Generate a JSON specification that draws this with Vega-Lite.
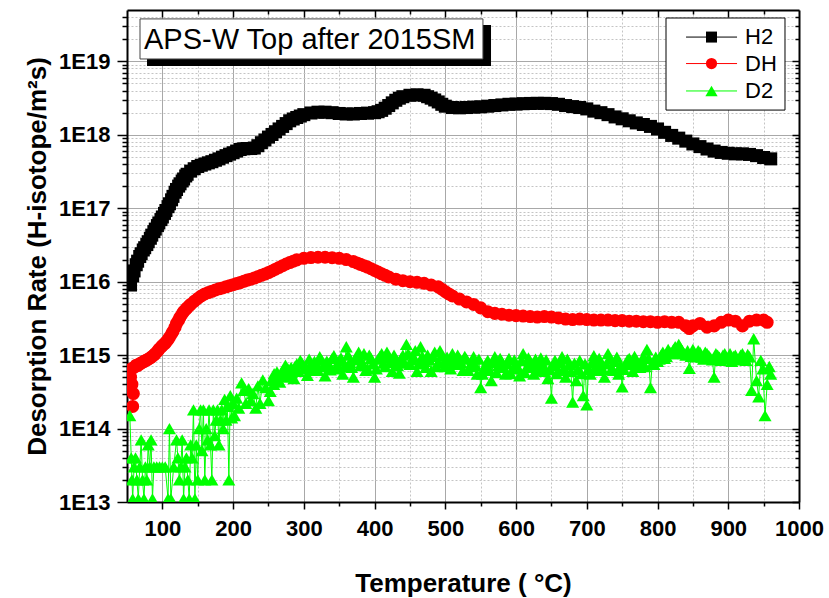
{
  "$schema": "https://vega.github.io/schema/vega-lite/v6.json",
  "width": 672,
  "height": 492,
  "autosize": "none",
  "padding": {"left": 127, "top": 10, "right": 30, "bottom": 96},
  "background": "#ffffff",
  "config": {"view": {"stroke": null}, "font": "Liberation Sans", "axis": {"labelColor": "#000000", "titleColor": "#000000", "labelFont": "Liberation Sans", "titleFont": "Liberation Sans"}},
  "datasets": {
    "tds": [
      {"s":"H2","T":55,"v":9e15},{"s":"H2","T":58,"v":1.2e16},{"s":"H2","T":60,"v":1.4e16},{"s":"H2","T":63,"v":1.7e16},{"s":"H2","T":65,"v":1.9e16},{"s":"H2","T":68,"v":2.2e16},{"s":"H2","T":70,"v":2.4e16},{"s":"H2","T":73,"v":2.7e16},{"s":"H2","T":75,"v":2.9e16},{"s":"H2","T":78,"v":3.2e16},{"s":"H2","T":80,"v":3.5e16},{"s":"H2","T":83,"v":3.9e16},{"s":"H2","T":85,"v":4.3e16},{"s":"H2","T":88,"v":4.8e16},{"s":"H2","T":90,"v":5.2e16},{"s":"H2","T":93,"v":5.8e16},{"s":"H2","T":95,"v":6.3e16},{"s":"H2","T":98,"v":7e16},{"s":"H2","T":100,"v":7.6e16},{"s":"H2","T":103,"v":8.5e16},{"s":"H2","T":105,"v":9.3e16},{"s":"H2","T":108,"v":1.05e17},{"s":"H2","T":110,"v":1.15e17},{"s":"H2","T":113,"v":1.3e17},{"s":"H2","T":115,"v":1.45e17},{"s":"H2","T":118,"v":1.65e17},{"s":"H2","T":120,"v":1.8e17},{"s":"H2","T":123,"v":2e17},{"s":"H2","T":125,"v":2.15e17},{"s":"H2","T":128,"v":2.35e17},{"s":"H2","T":130,"v":2.5e17},{"s":"H2","T":133,"v":2.75e17},{"s":"H2","T":135,"v":2.9e17},{"s":"H2","T":140,"v":3.2e17},{"s":"H2","T":145,"v":3.45e17},{"s":"H2","T":150,"v":3.7e17},{"s":"H2","T":155,"v":3.85e17},{"s":"H2","T":160,"v":4e17},{"s":"H2","T":165,"v":4.15e17},{"s":"H2","T":170,"v":4.3e17},{"s":"H2","T":175,"v":4.5e17},{"s":"H2","T":180,"v":4.7e17},{"s":"H2","T":185,"v":4.95e17},{"s":"H2","T":190,"v":5.2e17},{"s":"H2","T":195,"v":5.45e17},{"s":"H2","T":200,"v":5.7e17},{"s":"H2","T":205,"v":6e17},{"s":"H2","T":210,"v":6.3e17},{"s":"H2","T":215,"v":6.45e17},{"s":"H2","T":220,"v":6.5e17},{"s":"H2","T":225,"v":6.5e17},{"s":"H2","T":230,"v":6.6e17},{"s":"H2","T":235,"v":7.1e17},{"s":"H2","T":240,"v":7.8e17},{"s":"H2","T":245,"v":8.5e17},{"s":"H2","T":250,"v":9.3e17},{"s":"H2","T":255,"v":1.01e18},{"s":"H2","T":260,"v":1.1e18},{"s":"H2","T":265,"v":1.2e18},{"s":"H2","T":270,"v":1.3e18},{"s":"H2","T":275,"v":1.42e18},{"s":"H2","T":280,"v":1.55e18},{"s":"H2","T":285,"v":1.64e18},{"s":"H2","T":290,"v":1.72e18},{"s":"H2","T":295,"v":1.8e18},{"s":"H2","T":300,"v":1.88e18},{"s":"H2","T":310,"v":1.98e18},{"s":"H2","T":320,"v":2.03e18},{"s":"H2","T":330,"v":2.03e18},{"s":"H2","T":340,"v":2e18},{"s":"H2","T":350,"v":1.95e18},{"s":"H2","T":360,"v":1.92e18},{"s":"H2","T":370,"v":1.92e18},{"s":"H2","T":380,"v":1.95e18},{"s":"H2","T":390,"v":1.97e18},{"s":"H2","T":400,"v":2e18},{"s":"H2","T":405,"v":2.06e18},{"s":"H2","T":410,"v":2.15e18},{"s":"H2","T":415,"v":2.3e18},{"s":"H2","T":420,"v":2.5e18},{"s":"H2","T":425,"v":2.72e18},{"s":"H2","T":430,"v":2.95e18},{"s":"H2","T":435,"v":3.15e18},{"s":"H2","T":440,"v":3.3e18},{"s":"H2","T":450,"v":3.45e18},{"s":"H2","T":460,"v":3.5e18},{"s":"H2","T":470,"v":3.45e18},{"s":"H2","T":475,"v":3.3e18},{"s":"H2","T":480,"v":3.15e18},{"s":"H2","T":485,"v":2.98e18},{"s":"H2","T":490,"v":2.8e18},{"s":"H2","T":495,"v":2.6e18},{"s":"H2","T":500,"v":2.45e18},{"s":"H2","T":510,"v":2.35e18},{"s":"H2","T":520,"v":2.33e18},{"s":"H2","T":530,"v":2.35e18},{"s":"H2","T":540,"v":2.38e18},{"s":"H2","T":550,"v":2.4e18},{"s":"H2","T":560,"v":2.45e18},{"s":"H2","T":570,"v":2.5e18},{"s":"H2","T":580,"v":2.55e18},{"s":"H2","T":590,"v":2.6e18},{"s":"H2","T":600,"v":2.62e18},{"s":"H2","T":610,"v":2.65e18},{"s":"H2","T":620,"v":2.67e18},{"s":"H2","T":630,"v":2.68e18},{"s":"H2","T":640,"v":2.68e18},{"s":"H2","T":650,"v":2.66e18},{"s":"H2","T":660,"v":2.6e18},{"s":"H2","T":670,"v":2.5e18},{"s":"H2","T":680,"v":2.42e18},{"s":"H2","T":690,"v":2.35e18},{"s":"H2","T":700,"v":2.25e18},{"s":"H2","T":710,"v":2.1e18},{"s":"H2","T":720,"v":2e18},{"s":"H2","T":730,"v":1.88e18},{"s":"H2","T":740,"v":1.75e18},{"s":"H2","T":750,"v":1.65e18},{"s":"H2","T":760,"v":1.55e18},{"s":"H2","T":770,"v":1.45e18},{"s":"H2","T":780,"v":1.38e18},{"s":"H2","T":790,"v":1.3e18},{"s":"H2","T":800,"v":1.2e18},{"s":"H2","T":810,"v":1.08e18},{"s":"H2","T":820,"v":9.8e17},{"s":"H2","T":830,"v":9e17},{"s":"H2","T":840,"v":8.2e17},{"s":"H2","T":850,"v":7.5e17},{"s":"H2","T":860,"v":6.9e17},{"s":"H2","T":870,"v":6.4e17},{"s":"H2","T":880,"v":6e17},{"s":"H2","T":890,"v":5.75e17},{"s":"H2","T":900,"v":5.6e17},{"s":"H2","T":910,"v":5.5e17},{"s":"H2","T":920,"v":5.5e17},{"s":"H2","T":930,"v":5.4e17},{"s":"H2","T":940,"v":5.2e17},{"s":"H2","T":950,"v":4.9e17},{"s":"H2","T":960,"v":4.7e17},
      {"s":"DH","T":54,"v":3.5e14},{"s":"DH","T":55,"v":5e14},{"s":"DH","T":56,"v":6.5e14},{"s":"DH","T":57,"v":4e14},{"s":"DH","T":58,"v":2e14},{"s":"DH","T":59,"v":3e14},{"s":"DH","T":60,"v":6.8e14},{"s":"DH","T":63,"v":7.3e14},{"s":"DH","T":65,"v":7.2e14},{"s":"DH","T":68,"v":7.6e14},{"s":"DH","T":70,"v":7.8e14},{"s":"DH","T":73,"v":8.1e14},{"s":"DH","T":75,"v":8.3e14},{"s":"DH","T":78,"v":8.6e14},{"s":"DH","T":80,"v":8.8e14},{"s":"DH","T":83,"v":9.2e14},{"s":"DH","T":85,"v":9.5e14},{"s":"DH","T":88,"v":1e15},{"s":"DH","T":90,"v":1.05e15},{"s":"DH","T":93,"v":1.12e15},{"s":"DH","T":95,"v":1.2e15},{"s":"DH","T":98,"v":1.28e15},{"s":"DH","T":100,"v":1.35e15},{"s":"DH","T":103,"v":1.42e15},{"s":"DH","T":105,"v":1.5e15},{"s":"DH","T":108,"v":1.62e15},{"s":"DH","T":110,"v":1.75e15},{"s":"DH","T":113,"v":1.95e15},{"s":"DH","T":115,"v":2.1e15},{"s":"DH","T":118,"v":2.4e15},{"s":"DH","T":120,"v":2.7e15},{"s":"DH","T":123,"v":3e15},{"s":"DH","T":125,"v":3.3e15},{"s":"DH","T":128,"v":3.65e15},{"s":"DH","T":130,"v":3.9e15},{"s":"DH","T":133,"v":4.2e15},{"s":"DH","T":135,"v":4.4e15},{"s":"DH","T":138,"v":4.7e15},{"s":"DH","T":140,"v":4.9e15},{"s":"DH","T":145,"v":5.4e15},{"s":"DH","T":150,"v":5.9e15},{"s":"DH","T":155,"v":6.4e15},{"s":"DH","T":160,"v":6.8e15},{"s":"DH","T":165,"v":7.1e15},{"s":"DH","T":170,"v":7.4e15},{"s":"DH","T":175,"v":7.7e15},{"s":"DH","T":180,"v":8e15},{"s":"DH","T":185,"v":8.2e15},{"s":"DH","T":190,"v":8.5e15},{"s":"DH","T":195,"v":8.8e15},{"s":"DH","T":200,"v":9.1e15},{"s":"DH","T":205,"v":9.4e15},{"s":"DH","T":210,"v":9.7e15},{"s":"DH","T":215,"v":1.01e16},{"s":"DH","T":220,"v":1.05e16},{"s":"DH","T":225,"v":1.08e16},{"s":"DH","T":230,"v":1.12e16},{"s":"DH","T":235,"v":1.17e16},{"s":"DH","T":240,"v":1.22e16},{"s":"DH","T":245,"v":1.27e16},{"s":"DH","T":250,"v":1.33e16},{"s":"DH","T":255,"v":1.4e16},{"s":"DH","T":260,"v":1.48e16},{"s":"DH","T":265,"v":1.56e16},{"s":"DH","T":270,"v":1.65e16},{"s":"DH","T":275,"v":1.74e16},{"s":"DH","T":280,"v":1.82e16},{"s":"DH","T":285,"v":1.9e16},{"s":"DH","T":290,"v":1.98e16},{"s":"DH","T":300,"v":2.08e16},{"s":"DH","T":310,"v":2.13e16},{"s":"DH","T":320,"v":2.15e16},{"s":"DH","T":330,"v":2.15e16},{"s":"DH","T":340,"v":2.12e16},{"s":"DH","T":350,"v":2.08e16},{"s":"DH","T":360,"v":2e16},{"s":"DH","T":370,"v":1.88e16},{"s":"DH","T":375,"v":1.8e16},{"s":"DH","T":380,"v":1.72e16},{"s":"DH","T":385,"v":1.65e16},{"s":"DH","T":390,"v":1.58e16},{"s":"DH","T":395,"v":1.5e16},{"s":"DH","T":400,"v":1.42e16},{"s":"DH","T":405,"v":1.35e16},{"s":"DH","T":410,"v":1.28e16},{"s":"DH","T":415,"v":1.22e16},{"s":"DH","T":420,"v":1.16e16},{"s":"DH","T":430,"v":1.08e16},{"s":"DH","T":440,"v":1.03e16},{"s":"DH","T":450,"v":1e16},{"s":"DH","T":460,"v":9.8e15},{"s":"DH","T":470,"v":9.5e15},{"s":"DH","T":480,"v":9e15},{"s":"DH","T":490,"v":8.5e15},{"s":"DH","T":495,"v":7.9e15},{"s":"DH","T":500,"v":7.3e15},{"s":"DH","T":505,"v":6.8e15},{"s":"DH","T":510,"v":6.4e15},{"s":"DH","T":520,"v":5.8e15},{"s":"DH","T":530,"v":5.3e15},{"s":"DH","T":540,"v":4.9e15},{"s":"DH","T":550,"v":4.4e15},{"s":"DH","T":560,"v":3.9e15},{"s":"DH","T":570,"v":3.7e15},{"s":"DH","T":580,"v":3.6e15},{"s":"DH","T":590,"v":3.5e15},{"s":"DH","T":600,"v":3.45e15},{"s":"DH","T":610,"v":3.4e15},{"s":"DH","T":620,"v":3.35e15},{"s":"DH","T":630,"v":3.3e15},{"s":"DH","T":640,"v":3.35e15},{"s":"DH","T":650,"v":3.3e15},{"s":"DH","T":660,"v":3.2e15},{"s":"DH","T":670,"v":3.1e15},{"s":"DH","T":680,"v":3.05e15},{"s":"DH","T":690,"v":3.1e15},{"s":"DH","T":700,"v":3.05e15},{"s":"DH","T":710,"v":3e15},{"s":"DH","T":720,"v":3e15},{"s":"DH","T":730,"v":3e15},{"s":"DH","T":740,"v":2.95e15},{"s":"DH","T":750,"v":2.95e15},{"s":"DH","T":760,"v":2.9e15},{"s":"DH","T":770,"v":2.9e15},{"s":"DH","T":780,"v":2.85e15},{"s":"DH","T":790,"v":2.85e15},{"s":"DH","T":800,"v":2.8e15},{"s":"DH","T":810,"v":2.85e15},{"s":"DH","T":820,"v":2.8e15},{"s":"DH","T":830,"v":2.8e15},{"s":"DH","T":840,"v":2.5e15},{"s":"DH","T":845,"v":2.3e15},{"s":"DH","T":850,"v":2.5e15},{"s":"DH","T":860,"v":2.7e15},{"s":"DH","T":870,"v":2.4e15},{"s":"DH","T":880,"v":2.5e15},{"s":"DH","T":890,"v":2.8e15},{"s":"DH","T":900,"v":3e15},{"s":"DH","T":910,"v":2.9e15},{"s":"DH","T":920,"v":2.5e15},{"s":"DH","T":930,"v":2.9e15},{"s":"DH","T":940,"v":3e15},{"s":"DH","T":950,"v":3e15},{"s":"DH","T":955,"v":2.8e15},
      {"s":"D2","T":54,"v":1.5e14},{"s":"D2","T":56,"v":4e13},{"s":"D2","T":57,"v":2e13},{"s":"D2","T":58,"v":1.1e13},{"s":"D2","T":60,"v":3e13},{"s":"D2","T":62,"v":4e13},{"s":"D2","T":64,"v":2e13},{"s":"D2","T":66,"v":1.1e13},{"s":"D2","T":68,"v":3e13},{"s":"D2","T":70,"v":7e13},{"s":"D2","T":72,"v":2e13},{"s":"D2","T":74,"v":1.1e13},{"s":"D2","T":76,"v":3e13},{"s":"D2","T":78,"v":2e13},{"s":"D2","T":80,"v":6e13},{"s":"D2","T":82,"v":3e13},{"s":"D2","T":84,"v":7e13},{"s":"D2","T":86,"v":1.1e13},{"s":"D2","T":88,"v":3e13},{"s":"D2","T":92,"v":3e13},{"s":"D2","T":96,"v":3e13},{"s":"D2","T":100,"v":3e13},{"s":"D2","T":104,"v":3e13},{"s":"D2","T":108,"v":1.1e13},{"s":"D2","T":110,"v":1e14},{"s":"D2","T":112,"v":1.1e13},{"s":"D2","T":116,"v":3e13},{"s":"D2","T":120,"v":7e13},{"s":"D2","T":122,"v":4e13},{"s":"D2","T":124,"v":2e13},{"s":"D2","T":126,"v":3e13},{"s":"D2","T":128,"v":7e13},{"s":"D2","T":130,"v":1.1e13},{"s":"D2","T":132,"v":3e13},{"s":"D2","T":134,"v":4e13},{"s":"D2","T":136,"v":2e13},{"s":"D2","T":138,"v":1.1e13},{"s":"D2","T":140,"v":6e13},{"s":"D2","T":142,"v":4e13},{"s":"D2","T":144,"v":1.8e14},{"s":"D2","T":146,"v":1.1e13},{"s":"D2","T":148,"v":6e13},{"s":"D2","T":150,"v":2e13},{"s":"D2","T":152,"v":1e14},{"s":"D2","T":154,"v":1.8e14},{"s":"D2","T":156,"v":5e13},{"s":"D2","T":158,"v":1.8e14},{"s":"D2","T":160,"v":2e13},{"s":"D2","T":162,"v":1e14},{"s":"D2","T":164,"v":7e13},{"s":"D2","T":166,"v":1.8e14},{"s":"D2","T":168,"v":6e13},{"s":"D2","T":170,"v":2e13},{"s":"D2","T":172,"v":1.8e14},{"s":"D2","T":174,"v":8e13},{"s":"D2","T":176,"v":1.3e14},{"s":"D2","T":178,"v":1.8e14},{"s":"D2","T":180,"v":6e13},{"s":"D2","T":182,"v":1.3e14},{"s":"D2","T":184,"v":1.8e14},{"s":"D2","T":186,"v":1e14},{"s":"D2","T":188,"v":2.5e14},{"s":"D2","T":190,"v":1.3e14},{"s":"D2","T":192,"v":2e14},{"s":"D2","T":194,"v":2e13},{"s":"D2","T":196,"v":2.8e14},{"s":"D2","T":198,"v":1.4e14},{"s":"D2","T":200,"v":2.2e14},{"s":"D2","T":202,"v":1.5e14},{"s":"D2","T":205,"v":2.6e14},{"s":"D2","T":208,"v":1.9e14},{"s":"D2","T":212,"v":4.2e14},{"s":"D2","T":215,"v":3.3e14},{"s":"D2","T":218,"v":2.2e14},{"s":"D2","T":222,"v":3.5e14},{"s":"D2","T":225,"v":2.4e14},{"s":"D2","T":228,"v":3e14},{"s":"D2","T":232,"v":1.9e14},{"s":"D2","T":235,"v":3.8e14},{"s":"D2","T":238,"v":2.2e14},{"s":"D2","T":242,"v":4.6e14},{"s":"D2","T":246,"v":3.6e14},{"s":"D2","T":250,"v":2.4e14},{"s":"D2","T":254,"v":4.5e14},{"s":"D2","T":258,"v":5.6e14},{"s":"D2","T":262,"v":5.9e14},{"s":"D2","T":266,"v":4.3e14},{"s":"D2","T":270,"v":6.2e14},{"s":"D2","T":274,"v":7.3e14},{"s":"D2","T":278,"v":5.2e14},{"s":"D2","T":282,"v":6.8e14},{"s":"D2","T":286,"v":4.8e14},{"s":"D2","T":290,"v":7.6e14},{"s":"D2","T":295,"v":8.5e14},{"s":"D2","T":300,"v":6.5e14},{"s":"D2","T":305,"v":5.3e14},{"s":"D2","T":310,"v":7.5e14},{"s":"D2","T":315,"v":8.2e14},{"s":"D2","T":320,"v":6.2e14},{"s":"D2","T":325,"v":8.6e14},{"s":"D2","T":330,"v":5.2e14},{"s":"D2","T":335,"v":7.6e14},{"s":"D2","T":340,"v":9e14},{"s":"D2","T":345,"v":6.5e14},{"s":"D2","T":350,"v":8.5e14},{"s":"D2","T":355,"v":5.5e14},{"s":"D2","T":360,"v":1.3e15},{"s":"D2","T":365,"v":8e14},{"s":"D2","T":370,"v":5e14},{"s":"D2","T":375,"v":9.5e14},{"s":"D2","T":380,"v":7.2e14},{"s":"D2","T":385,"v":1.05e15},{"s":"D2","T":390,"v":6.5e14},{"s":"D2","T":395,"v":9e14},{"s":"D2","T":400,"v":5e14},{"s":"D2","T":405,"v":8.8e14},{"s":"D2","T":410,"v":1.05e15},{"s":"D2","T":415,"v":7e14},{"s":"D2","T":420,"v":9.3e14},{"s":"D2","T":425,"v":6e14},{"s":"D2","T":430,"v":8.5e14},{"s":"D2","T":435,"v":5.7e14},{"s":"D2","T":440,"v":1e15},{"s":"D2","T":445,"v":1.4e15},{"s":"D2","T":450,"v":7.5e14},{"s":"D2","T":455,"v":9.5e14},{"s":"D2","T":460,"v":6e14},{"s":"D2","T":465,"v":1.3e15},{"s":"D2","T":470,"v":8.2e14},{"s":"D2","T":475,"v":1e15},{"s":"D2","T":480,"v":6e14},{"s":"D2","T":485,"v":1.1e15},{"s":"D2","T":490,"v":8e14},{"s":"D2","T":495,"v":9.8e14},{"s":"D2","T":500,"v":7e14},{"s":"D2","T":505,"v":8.3e14},{"s":"D2","T":510,"v":1.05e15},{"s":"D2","T":515,"v":7.5e14},{"s":"D2","T":520,"v":9e14},{"s":"D2","T":525,"v":6.2e14},{"s":"D2","T":530,"v":8.8e14},{"s":"D2","T":535,"v":7e14},{"s":"D2","T":540,"v":9.5e14},{"s":"D2","T":545,"v":5.5e14},{"s":"D2","T":550,"v":3.6e14},{"s":"D2","T":555,"v":6.5e14},{"s":"D2","T":560,"v":8.5e14},{"s":"D2","T":565,"v":4.5e14},{"s":"D2","T":570,"v":9.5e14},{"s":"D2","T":575,"v":7.2e14},{"s":"D2","T":580,"v":8e14},{"s":"D2","T":585,"v":5.5e14},{"s":"D2","T":590,"v":9e14},{"s":"D2","T":595,"v":6.5e14},{"s":"D2","T":600,"v":7.5e14},{"s":"D2","T":605,"v":5.2e14},{"s":"D2","T":610,"v":1.05e15},{"s":"D2","T":615,"v":6.8e14},{"s":"D2","T":620,"v":8.2e14},{"s":"D2","T":625,"v":5.5e14},{"s":"D2","T":630,"v":7.6e14},{"s":"D2","T":635,"v":9.2e14},{"s":"D2","T":640,"v":6e14},{"s":"D2","T":645,"v":4.8e14},{"s":"D2","T":650,"v":2.6e14},{"s":"D2","T":655,"v":8.5e14},{"s":"D2","T":660,"v":6.2e14},{"s":"D2","T":665,"v":9.5e14},{"s":"D2","T":670,"v":5e14},{"s":"D2","T":675,"v":7.5e14},{"s":"D2","T":680,"v":2.3e14},{"s":"D2","T":685,"v":4.5e14},{"s":"D2","T":690,"v":8.5e14},{"s":"D2","T":695,"v":2.8e14},{"s":"D2","T":700,"v":2.1e14},{"s":"D2","T":705,"v":5.5e14},{"s":"D2","T":710,"v":9.8e14},{"s":"D2","T":715,"v":6.2e14},{"s":"D2","T":720,"v":7.8e14},{"s":"D2","T":725,"v":5e14},{"s":"D2","T":730,"v":1.05e15},{"s":"D2","T":735,"v":6.5e14},{"s":"D2","T":740,"v":8.2e14},{"s":"D2","T":745,"v":5.5e14},{"s":"D2","T":750,"v":3.7e14},{"s":"D2","T":755,"v":7.6e14},{"s":"D2","T":760,"v":9e14},{"s":"D2","T":765,"v":6e14},{"s":"D2","T":770,"v":8.5e14},{"s":"D2","T":775,"v":6.8e14},{"s":"D2","T":780,"v":9.5e14},{"s":"D2","T":785,"v":1.2e15},{"s":"D2","T":790,"v":3.6e14},{"s":"D2","T":795,"v":7.5e14},{"s":"D2","T":800,"v":8.2e14},{"s":"D2","T":805,"v":1e15},{"s":"D2","T":810,"v":9e14},{"s":"D2","T":815,"v":1.2e15},{"s":"D2","T":820,"v":1.05e15},{"s":"D2","T":825,"v":1.3e15},{"s":"D2","T":830,"v":1.4e15},{"s":"D2","T":835,"v":1.15e15},{"s":"D2","T":840,"v":1e15},{"s":"D2","T":845,"v":6.6e14},{"s":"D2","T":850,"v":1.2e15},{"s":"D2","T":855,"v":9.5e14},{"s":"D2","T":860,"v":1.1e15},{"s":"D2","T":865,"v":8.8e14},{"s":"D2","T":870,"v":1.05e15},{"s":"D2","T":875,"v":9.2e14},{"s":"D2","T":880,"v":5e14},{"s":"D2","T":885,"v":1e15},{"s":"D2","T":890,"v":8.5e14},{"s":"D2","T":895,"v":1.05e15},{"s":"D2","T":900,"v":9e14},{"s":"D2","T":905,"v":8.2e14},{"s":"D2","T":910,"v":1e15},{"s":"D2","T":915,"v":8.8e14},{"s":"D2","T":920,"v":1.05e15},{"s":"D2","T":925,"v":8.5e14},{"s":"D2","T":930,"v":9.5e14},{"s":"D2","T":933,"v":3.3e14},{"s":"D2","T":936,"v":1.67e15},{"s":"D2","T":940,"v":4.5e14},{"s":"D2","T":943,"v":2.7e14},{"s":"D2","T":946,"v":8.5e14},{"s":"D2","T":949,"v":6.5e14},{"s":"D2","T":952,"v":1.5e14},{"s":"D2","T":955,"v":4e14},{"s":"D2","T":958,"v":7e14},{"s":"D2","T":960,"v":5.5e14},
      {"s":"D2","T":252.5,"v":3.2e14},{"s":"D2","T":257.5,"v":4e14},{"s":"D2","T":262.5,"v":4.8e14},{"s":"D2","T":267.5,"v":5.5e14},{"s":"D2","T":272.5,"v":5e14},{"s":"D2","T":277.5,"v":6.5e14},{"s":"D2","T":282.5,"v":5.8e14},{"s":"D2","T":287.5,"v":7e14},{"s":"D2","T":292.5,"v":6e14},{"s":"D2","T":297.5,"v":7.8e14},
      {"s":"D2","T":302.5,"v":7e14},{"s":"D2","T":307.5,"v":8.8e14},{"s":"D2","T":312.5,"v":6.2e14},{"s":"D2","T":317.5,"v":7.8e14},{"s":"D2","T":322.5,"v":9.5e14},{"s":"D2","T":327.5,"v":7e14},{"s":"D2","T":332.5,"v":8.3e14},{"s":"D2","T":337.5,"v":6.3e14},{"s":"D2","T":342.5,"v":9.8e14},{"s":"D2","T":347.5,"v":7.4e14},
      {"s":"D2","T":352.5,"v":9.2e14},{"s":"D2","T":357.5,"v":7e14},{"s":"D2","T":362.5,"v":1e15},{"s":"D2","T":367.5,"v":6.8e14},{"s":"D2","T":372.5,"v":8.6e14},{"s":"D2","T":377.5,"v":1.1e15},{"s":"D2","T":382.5,"v":8e14},{"s":"D2","T":387.5,"v":6.2e14},{"s":"D2","T":392.5,"v":1e15},{"s":"D2","T":397.5,"v":7.6e14},
      {"s":"D2","T":402.5,"v":6.5e14},{"s":"D2","T":407.5,"v":9.6e14},{"s":"D2","T":412.5,"v":7.8e14},{"s":"D2","T":417.5,"v":1.1e15},{"s":"D2","T":422.5,"v":8e14},{"s":"D2","T":427.5,"v":1e15},{"s":"D2","T":432.5,"v":7.2e14},{"s":"D2","T":437.5,"v":9e14},{"s":"D2","T":442.5,"v":7.8e14},{"s":"D2","T":447.5,"v":1.05e15},
      {"s":"D2","T":452.5,"v":8.6e14},{"s":"D2","T":457.5,"v":1.15e15},{"s":"D2","T":462.5,"v":7.6e14},{"s":"D2","T":467.5,"v":9.6e14},{"s":"D2","T":472.5,"v":6.8e14},{"s":"D2","T":477.5,"v":8.6e14},{"s":"D2","T":482.5,"v":9.6e14},{"s":"D2","T":487.5,"v":7e14},{"s":"D2","T":492.5,"v":1.15e15},{"s":"D2","T":497.5,"v":7.8e14},
      {"s":"D2","T":502.5,"v":9.4e14},{"s":"D2","T":507.5,"v":6.5e14},{"s":"D2","T":512.5,"v":8.6e14},{"s":"D2","T":517.5,"v":1e15},{"s":"D2","T":522.5,"v":7.8e14},{"s":"D2","T":527.5,"v":9.6e14},{"s":"D2","T":532.5,"v":6.2e14},{"s":"D2","T":537.5,"v":8e14},{"s":"D2","T":542.5,"v":7.2e14},{"s":"D2","T":547.5,"v":8.8e14},
      {"s":"D2","T":552.5,"v":5.5e14},{"s":"D2","T":557.5,"v":7.6e14},{"s":"D2","T":562.5,"v":6.2e14},{"s":"D2","T":567.5,"v":8e14},{"s":"D2","T":572.5,"v":5.8e14},{"s":"D2","T":577.5,"v":9e14},{"s":"D2","T":582.5,"v":6.8e14},{"s":"D2","T":587.5,"v":7.6e14},{"s":"D2","T":592.5,"v":5.6e14},{"s":"D2","T":597.5,"v":8.6e14},
      {"s":"D2","T":602.5,"v":6.6e14},{"s":"D2","T":607.5,"v":8.4e14},{"s":"D2","T":612.5,"v":5.8e14},{"s":"D2","T":617.5,"v":9.2e14},{"s":"D2","T":622.5,"v":7e14},{"s":"D2","T":627.5,"v":8.8e14},{"s":"D2","T":632.5,"v":6.2e14},{"s":"D2","T":637.5,"v":7.4e14},{"s":"D2","T":642.5,"v":8.6e14},{"s":"D2","T":647.5,"v":6.4e14},
      {"s":"D2","T":652.5,"v":7.2e14},{"s":"D2","T":657.5,"v":5.6e14},{"s":"D2","T":662.5,"v":8e14},{"s":"D2","T":667.5,"v":6.6e14},{"s":"D2","T":672.5,"v":8.8e14},{"s":"D2","T":677.5,"v":6e14},{"s":"D2","T":682.5,"v":7.8e14},{"s":"D2","T":687.5,"v":6.4e14},{"s":"D2","T":692.5,"v":5.6e14},{"s":"D2","T":697.5,"v":7.6e14},
      {"s":"D2","T":702.5,"v":6.4e14},{"s":"D2","T":707.5,"v":8e14},{"s":"D2","T":712.5,"v":7e14},{"s":"D2","T":717.5,"v":9e14},{"s":"D2","T":722.5,"v":6.4e14},{"s":"D2","T":727.5,"v":7.6e14},{"s":"D2","T":732.5,"v":8.8e14},{"s":"D2","T":737.5,"v":6.2e14},{"s":"D2","T":742.5,"v":9.4e14},{"s":"D2","T":747.5,"v":7.2e14},
      {"s":"D2","T":752.5,"v":6.4e14},{"s":"D2","T":757.5,"v":8.6e14},{"s":"D2","T":762.5,"v":7.4e14},{"s":"D2","T":767.5,"v":9.6e14},{"s":"D2","T":772.5,"v":7.2e14},{"s":"D2","T":777.5,"v":8.2e14},{"s":"D2","T":782.5,"v":7e14},{"s":"D2","T":787.5,"v":9e14},{"s":"D2","T":792.5,"v":7.6e14},{"s":"D2","T":797.5,"v":9.4e14},
      {"s":"D2","T":802.5,"v":8.8e14},{"s":"D2","T":807.5,"v":1.1e15},{"s":"D2","T":812.5,"v":9.6e14},{"s":"D2","T":817.5,"v":1.1e15},{"s":"D2","T":822.5,"v":1.2e15},{"s":"D2","T":827.5,"v":1.05e15},{"s":"D2","T":832.5,"v":1.25e15},{"s":"D2","T":837.5,"v":1.05e15},{"s":"D2","T":842.5,"v":1.15e15},{"s":"D2","T":847.5,"v":9.6e14},
      {"s":"D2","T":852.5,"v":1.05e15},{"s":"D2","T":857.5,"v":1.15e15},{"s":"D2","T":862.5,"v":9.4e14},{"s":"D2","T":867.5,"v":1.1e15},{"s":"D2","T":872.5,"v":9.8e14},{"s":"D2","T":877.5,"v":8.6e14},{"s":"D2","T":882.5,"v":1.05e15},{"s":"D2","T":887.5,"v":9.4e14},{"s":"D2","T":892.5,"v":1e15},{"s":"D2","T":897.5,"v":9.2e14},
      {"s":"D2","T":902.5,"v":1.05e15},{"s":"D2","T":907.5,"v":9.6e14},{"s":"D2","T":912.5,"v":8.6e14},{"s":"D2","T":917.5,"v":1e15},{"s":"D2","T":922.5,"v":9.2e14},{"s":"D2","T":927.5,"v":1.02e15}
    ]
  },
  "resolve": {"axis": {"x": "independent", "y": "independent"}},
  "layer": [
    {
      "data": {"name": "tds"},
      "mark": {"type": "line", "strokeWidth": 1, "clip": true},
      "encoding": {
        "x": {"field": "T", "type": "quantitative", "scale": {"domain": [50, 1000], "nice": false, "zero": false},
          "axis": {"orient": "bottom", "values": [150,250,350,450,550,650,750,850,950], "labels": false, "title": null, "tickSize": 4, "tickColor": "#000000", "tickWidth": 1.5, "domain": false, "grid": true, "gridColor": "#c4c4c4", "gridDash": [2, 2], "gridWidth": 1}},
        "y": {"field": "v", "type": "quantitative", "scale": {"type": "log", "domain": [1e13, 5e19], "nice": false},
          "axis": {"orient": "left", "values": [2e13,3e13,4e13,5e13,6e13,7e13,8e13,9e13,2e14,3e14,4e14,5e14,6e14,7e14,8e14,9e14,2e15,3e15,4e15,5e15,6e15,7e15,8e15,9e15,2e16,3e16,4e16,5e16,6e16,7e16,8e16,9e16,2e17,3e17,4e17,5e17,6e17,7e17,8e17,9e17,2e18,3e18,4e18,5e18,6e18,7e18,8e18,9e18,2e19,3e19,4e19], "labels": false, "title": null, "tickSize": 5, "tickColor": "#000000", "tickWidth": 1.5, "domain": false, "grid": true, "gridColor": "#c4c4c4", "gridDash": [2, 2], "gridWidth": 1}},
        "stroke": {"field": "s", "type": "nominal", "scale": {"domain": ["H2", "DH", "D2"], "range": ["#000000", "#ff0000", "#00ff00"]}, "legend": null},
        "detail": {"field": "s"}
      }
    },
    {
      "data": {"name": "tds"},
      "mark": {"type": "point", "filled": true, "opacity": 1, "size": 170, "clip": true},
      "encoding": {
        "x": {"field": "T", "type": "quantitative", "scale": {"domain": [50, 1000], "nice": false, "zero": false},
          "axis": {"orient": "bottom", "values": [100,200,300,400,500,600,700,800,900,1000], "format": "d", "title": "Temperature ( °C)", "titleFontSize": 26, "titleFontWeight": "bold", "titlePadding": 31, "labelFontSize": 22, "labelFontWeight": "bold", "labelPadding": 9, "labelFlush": false, "labelOverlap": false, "tickSize": 7, "tickColor": "#000000", "tickWidth": 1.5, "domain": true, "domainColor": "#000000", "domainWidth": 2, "grid": true, "gridColor": "#a8a8a8", "gridWidth": 1}},
        "y": {"field": "v", "type": "quantitative", "scale": {"type": "log", "domain": [1e13, 5e19], "nice": false},
          "axis": {"orient": "left", "values": [1e13,1e14,1e15,1e16,1e17,1e18,1e19], "labelExpr": "'1E' + round(log(datum.value)/LN10)", "title": "Desorption Rate (H-isotope/m²s)", "titleFontSize": 26, "titleFontWeight": "bold", "titlePadding": 8, "labelFontSize": 22, "labelFontWeight": "bold", "labelPadding": 7, "labelFlush": false, "labelOverlap": false, "tickSize": 10, "tickColor": "#000000", "tickWidth": 1.5, "domain": true, "domainColor": "#000000", "domainWidth": 2, "grid": true, "gridColor": "#a8a8a8", "gridWidth": 1}},
        "color": {"field": "s", "type": "nominal", "scale": {"domain": ["H2", "DH", "D2"], "range": ["#000000", "#ff0000", "#00ff00"]}, "legend": null},
        "shape": {"field": "s", "type": "nominal", "scale": {"domain": ["H2", "DH", "D2"], "range": ["square", "circle", "triangle-up"]}, "legend": null}
      }
    },
    {
      "data": {"values": [{}]},
      "mark": {"type": "rect", "color": "#000000"},
      "encoding": {
        "x": {"datum": 78.3, "type": "quantitative", "scale": {"domain": [50, 1000], "nice": false, "zero": false},
          "axis": {"orient": "top", "values": [150,250,350,450,550,650,750,850,950], "labels": false, "title": null, "tickSize": -4, "tickColor": "#000000", "tickWidth": 1.5, "domain": true, "domainColor": "#000000", "domainWidth": 2, "grid": false}},
        "x2": {"datum": 564.6},
        "y": {"datum": 3.13e19, "type": "quantitative", "scale": {"type": "log", "domain": [1e13, 5e19], "nice": false},
          "axis": {"orient": "right", "values": [2e13,3e13,4e13,5e13,6e13,7e13,8e13,9e13,2e14,3e14,4e14,5e14,6e14,7e14,8e14,9e14,2e15,3e15,4e15,5e15,6e15,7e15,8e15,9e15,2e16,3e16,4e16,5e16,6e16,7e16,8e16,9e16,2e17,3e17,4e17,5e17,6e17,7e17,8e17,9e17,2e18,3e18,4e18,5e18,6e18,7e18,8e18,9e18,2e19,3e19,4e19], "labels": false, "title": null, "tickSize": -4, "tickColor": "#000000", "tickWidth": 1.5, "domain": true, "domainColor": "#000000", "domainWidth": 2, "grid": false}},
        "y2": {"datum": 8.65e18}
      }
    },
    {
      "data": {"values": [{}]},
      "mark": {"type": "rect", "fill": "#ffffff", "stroke": "#444444", "strokeWidth": 1},
      "encoding": {
        "x": {"datum": 68.4, "type": "quantitative", "scale": {"domain": [50, 1000], "nice": false, "zero": false},
          "axis": {"orient": "top", "values": [100,200,300,400,500,600,700,800,900], "labels": false, "title": null, "tickSize": -7, "tickColor": "#000000", "tickWidth": 1.5, "domain": false, "grid": false}},
        "x2": {"datum": 553.2},
        "y": {"datum": 3.78e19, "type": "quantitative", "scale": {"type": "log", "domain": [1e13, 5e19], "nice": false},
          "axis": {"orient": "right", "values": [1e13,1e14,1e15,1e16,1e17,1e18,1e19], "labels": false, "title": null, "tickSize": -7, "tickColor": "#000000", "tickWidth": 1.5, "domain": false, "grid": false}},
        "y2": {"datum": 1.077e19}
      }
    },
    {
      "data": {"values": [{"label": "APS-W Top after 2015SM"}]},
      "mark": {"type": "text", "align": "left", "baseline": "alphabetic", "font": "Liberation Sans", "fontSize": 29, "color": "#000000"},
      "encoding": {
        "x": {"datum": 74.0, "type": "quantitative", "scale": {"domain": [50, 1000], "nice": false, "zero": false}, "axis": null},
        "y": {"datum": 1.46e19, "type": "quantitative", "scale": {"type": "log", "domain": [1e13, 5e19], "nice": false}, "axis": null},
        "text": {"field": "label"}
      }
    },
    {
      "data": {"values": [{}]},
      "mark": {"type": "rect", "fill": "#ffffff", "stroke": "#000000", "strokeWidth": 1},
      "encoding": {
        "x": {"datum": 812.0, "type": "quantitative", "scale": {"domain": [50, 1000], "nice": false, "zero": false}, "axis": null},
        "x2": {"datum": 980.2},
        "y": {"datum": 3.89e19, "type": "quantitative", "scale": {"type": "log", "domain": [1e13, 5e19], "nice": false}, "axis": null},
        "y2": {"datum": 2.17e18}
      }
    },
    {
      "data": {"values": [{"s": "H2"}]},
      "layer": [
        {"mark": {"type": "rule", "color": "#000000", "strokeWidth": 1},
         "encoding": {"x": {"datum": 840.3, "type": "quantitative", "scale": {"domain": [50, 1000], "nice": false, "zero": false}, "axis": null}, "x2": {"datum": 912.4}, "y": {"datum": 2.14e19, "type": "quantitative", "scale": {"type": "log", "domain": [1e13, 5e19], "nice": false}, "axis": null}}},
        {"mark": {"type": "point", "shape": "square", "filled": true, "opacity": 1, "size": 121, "color": "#000000"},
         "encoding": {"x": {"datum": 876.3, "type": "quantitative", "scale": {"domain": [50, 1000], "nice": false, "zero": false}, "axis": null}, "y": {"datum": 2.14e19, "type": "quantitative", "scale": {"type": "log", "domain": [1e13, 5e19], "nice": false}, "axis": null}}},
        {"mark": {"type": "text", "align": "left", "baseline": "middle", "font": "Liberation Sans", "fontSize": 22, "color": "#000000"},
         "encoding": {"x": {"datum": 923.7, "type": "quantitative", "scale": {"domain": [50, 1000], "nice": false, "zero": false}, "axis": null}, "y": {"datum": 2.14e19, "type": "quantitative", "scale": {"type": "log", "domain": [1e13, 5e19], "nice": false}, "axis": null}, "text": {"field": "s"}}}
      ]
    },
    {
      "data": {"values": [{"s": "DH"}]},
      "layer": [
        {"mark": {"type": "rule", "color": "#ff0000", "strokeWidth": 1},
         "encoding": {"x": {"datum": 840.3, "type": "quantitative", "scale": {"domain": [50, 1000], "nice": false, "zero": false}, "axis": null}, "x2": {"datum": 912.4}, "y": {"datum": 9.33e18, "type": "quantitative", "scale": {"type": "log", "domain": [1e13, 5e19], "nice": false}, "axis": null}}},
        {"mark": {"type": "point", "shape": "circle", "filled": true, "opacity": 1, "size": 125, "color": "#ff0000"},
         "encoding": {"x": {"datum": 876.3, "type": "quantitative", "scale": {"domain": [50, 1000], "nice": false, "zero": false}, "axis": null}, "y": {"datum": 9.33e18, "type": "quantitative", "scale": {"type": "log", "domain": [1e13, 5e19], "nice": false}, "axis": null}}},
        {"mark": {"type": "text", "align": "left", "baseline": "middle", "font": "Liberation Sans", "fontSize": 22, "color": "#000000"},
         "encoding": {"x": {"datum": 923.7, "type": "quantitative", "scale": {"domain": [50, 1000], "nice": false, "zero": false}, "axis": null}, "y": {"datum": 9.33e18, "type": "quantitative", "scale": {"type": "log", "domain": [1e13, 5e19], "nice": false}, "axis": null}, "text": {"field": "s"}}}
      ]
    },
    {
      "data": {"values": [{"s": "D2"}]},
      "layer": [
        {"mark": {"type": "rule", "color": "#00ff00", "strokeWidth": 1},
         "encoding": {"x": {"datum": 840.3, "type": "quantitative", "scale": {"domain": [50, 1000], "nice": false, "zero": false}, "axis": null}, "x2": {"datum": 912.4}, "y": {"datum": 3.95e18, "type": "quantitative", "scale": {"type": "log", "domain": [1e13, 5e19], "nice": false}, "axis": null}}},
        {"mark": {"type": "point", "shape": "triangle-up", "filled": true, "opacity": 1, "size": 150, "color": "#00ff00"},
         "encoding": {"x": {"datum": 876.3, "type": "quantitative", "scale": {"domain": [50, 1000], "nice": false, "zero": false}, "axis": null}, "y": {"datum": 3.95e18, "type": "quantitative", "scale": {"type": "log", "domain": [1e13, 5e19], "nice": false}, "axis": null}}},
        {"mark": {"type": "text", "align": "left", "baseline": "middle", "font": "Liberation Sans", "fontSize": 22, "color": "#000000"},
         "encoding": {"x": {"datum": 923.7, "type": "quantitative", "scale": {"domain": [50, 1000], "nice": false, "zero": false}, "axis": null}, "y": {"datum": 3.95e18, "type": "quantitative", "scale": {"type": "log", "domain": [1e13, 5e19], "nice": false}, "axis": null}, "text": {"field": "s"}}}
      ]
    }
  ]
}
